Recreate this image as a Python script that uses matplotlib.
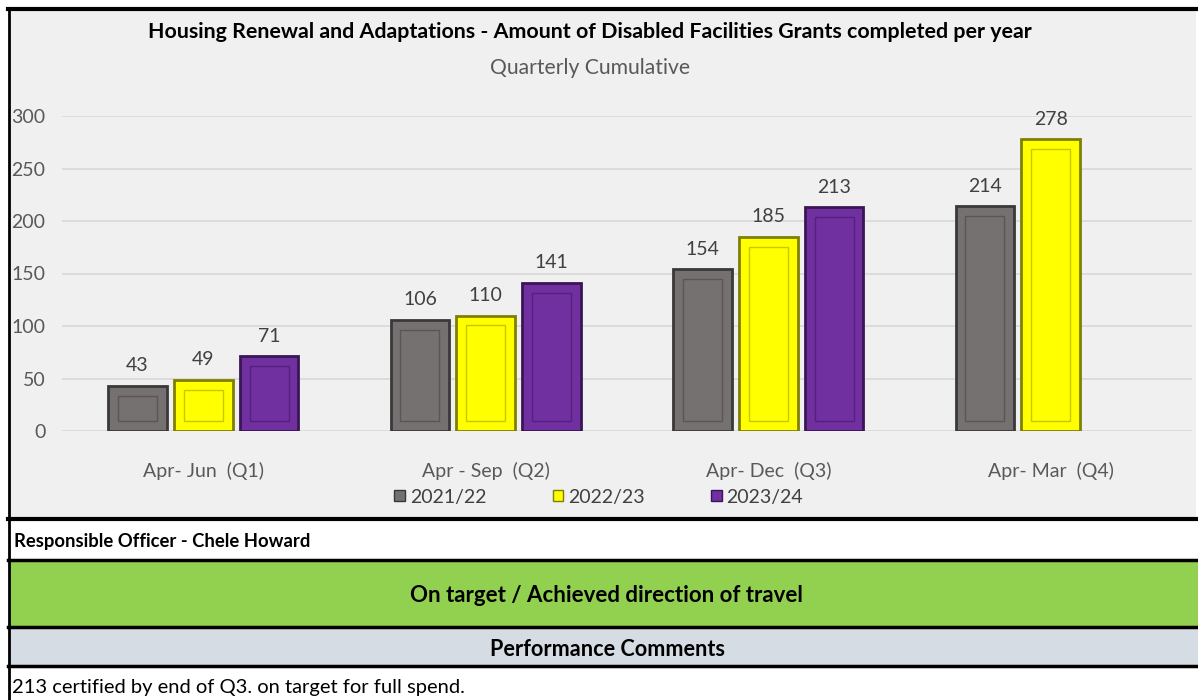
import matplotlib
matplotlib.use("Agg")
import matplotlib.pyplot as plt
from matplotlib.patches import Rectangle
import numpy as np

plt.rcParams['font.family'] = ['Lato', 'DejaVu Sans']

categories = ["Apr- Jun  (Q1)", "Apr - Sep  (Q2)", "Apr- Dec  (Q3)", "Apr- Mar  (Q4)"]
series_names = ["2021/22", "2022/23", "2023/24"]
v_2021 = [43, 106, 154, 214]
v_2022 = [49, 110, 185, 278]
v_2023 = [71, 141, 213, None]
series_values = [v_2021, v_2022, v_2023]
face_colors = ["#767171", "#FFFF00", "#7030A0"]
edge_colors = ["#3A3838", "#7F7F00", "#3B1657"]
inner_colors = ["#5A5656", "#C8C800", "#56207E"]
yticks = [0, 50, 100, 150, 200, 250, 300]

title = "Housing Renewal and Adaptations - Amount of Disabled Facilities Grants completed per year"
subtitle = "Quarterly Cumulative"
officer = "Responsible Officer - Chele Howard"
status = "On target / Achieved direction of travel"
comments_head = "Performance Comments"
comments = "213 certified by end of Q3. on target for full spend."

W, H = 1198, 700
fig = plt.figure(figsize=(W / 100, H / 100), dpi=100)
fig.patch.set_facecolor("white")

def fx(px):
    return px / W

def fy(py):
    return 1 - py / H

# chart background
fig.patches.append(Rectangle((fx(9), fy(518)), fx(1196 - 9), (518 - 9) / H,
                             transform=fig.transFigure, facecolor="#F0F0F0",
                             edgecolor="none", zorder=-2))
# table rows
rows = [(520, 559, "white"), (560, 626, "#92D050"), (627, 665, "#D6DCE4"), (666, 700, "white")]
for top, bot, col in rows:
    fig.patches.append(Rectangle((fx(9), fy(bot)), fx(1198 - 9), (bot - top) / H,
                                 transform=fig.transFigure, facecolor=col,
                                 edgecolor="none", zorder=-2))
# black lines
for py, lw in [(9, 3.0), (519, 3.0), (559.5, 2.5), (626.5, 2.5), (665.5, 2.5)]:
    fig.add_artist(plt.Line2D([fx(8), 1], [fy(py), fy(py)], color="black", lw=lw,
                              transform=fig.transFigure, zorder=-1))
fig.add_artist(plt.Line2D([fx(9), fx(9)], [fy(8), 0], color="black", lw=2.0,
                          transform=fig.transFigure, zorder=-1))

fig.text(fx(590), fy(32), title, ha="center", va="center", fontsize=15.4,
         fontweight="bold", color="black")
fig.text(fx(590), fy(68), subtitle, ha="center", va="center", fontsize=15.2, color="#595959")

fig.text(fx(14), fy(541), officer, ha="left", va="center", fontsize=13.3, fontweight="bold",
         color="black")
fig.text(fx(606), fy(596), status, ha="center", va="center", fontsize=16, fontweight="bold",
         color="black")
fig.text(fx(607), fy(649), comments_head, ha="center", va="center", fontsize=15.6,
         fontweight="bold", color="black")
fig.text(fx(12), fy(688), comments, ha="left", va="center", fontsize=14.5, color="black")

# axes
ax_left, ax_right = 62, 1192
ax_top, ax_bot = 116, 431
ax = fig.add_axes([fx(ax_left), fy(ax_bot), (ax_right - ax_left) / W, (ax_bot - ax_top) / H])
ax.set_facecolor("none")
ax.set_ylim(0, 300)
ax.set_xlim(-0.5, len(categories) - 0.5)
for s in ax.spines.values():
    s.set_visible(False)
ax.set_yticks(yticks)
ax.yaxis.grid(True, color="#D9D9D9", lw=1.2)
ax.set_axisbelow(True)
ax.tick_params(axis="y", length=0, pad=12, labelsize=14, labelcolor="#595959")
ax.set_xticks(np.arange(len(categories)))
ax.set_xticklabels(categories)
ax.tick_params(axis="x", length=0, pad=22, labelsize=14, labelcolor="#595959")

bw = 0.208
step = 0.233
x = np.arange(len(categories))
ins_x = 0.035
ins_y = 9.5
for i, (vals, fc, ec, ic, name) in enumerate(zip(series_values, face_colors, edge_colors,
                                                   inner_colors, series_names)):
    xs = x + (i - 1) * step
    idx = [k for k, v in enumerate(vals) if v is not None]
    xv = xs[idx]
    hv = np.array([vals[k] for k in idx], dtype=float)
    ax.bar(xv, hv, width=bw, color=fc, edgecolor=ec, linewidth=2.0, label=name, zorder=3)
    ax.bar(xv, hv - 2 * ins_y, bottom=ins_y, width=bw - 2 * ins_x, color="none",
           edgecolor=ic, linewidth=1.0, zorder=4)
    for xx, hh in zip(xv, hv):
        ax.text(xx, hh + 11, f"{int(hh)}", ha="center", va="bottom", fontsize=14,
                color="#404040", zorder=5)

leg = ax.legend(loc="center", bbox_to_anchor=(0.475, (ax_bot - 497) / (ax_bot - ax_top)),
                ncol=3, frameon=False, fontsize=14, handlelength=0.55, handleheight=0.55,
                handletextpad=0.25, columnspacing=3.4, labelcolor="#404040")
for h in leg.legend_handles:
    h.set_linewidth(1.0)

fig.savefig("out.png", dpi=100, facecolor=fig.get_facecolor())
